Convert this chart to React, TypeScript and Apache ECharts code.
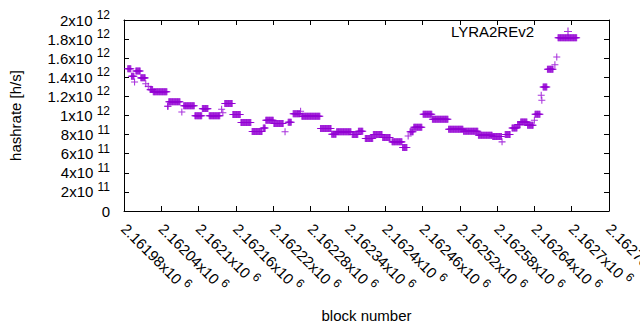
import React, { useEffect, useRef } from "react";
import * as echarts from "echarts";

// Runs of blocks that share one hashrate value
const runStart = [
  2161986, 2161992, 2161997, 2161999, 2162007, 2162015, 2162019, 2162022, 2162027, 2162050,
  2162052, 2162073, 2162076, 2162094, 2162106, 2162117, 2162137, 2162139, 2162142, 2162155,
  2162168, 2162186, 2162204, 2162208, 2162221, 2162239, 2162244, 2162252, 2162264, 2162266,
  2162296, 2162314, 2162322, 2162347, 2162357, 2162368, 2162381, 2162396, 2162411, 2162428,
  2162437, 2162440, 2162446, 2162461, 2162476, 2162502, 2162526, 2162550, 2162573, 2162588,
  2162593, 2162604, 2162613, 2162618, 2162629, 2162640, 2162641, 2162651, 2162652, 2162654,
  2162661, 2162673, 2162676, 2162678,
];
const runEnd = [
  2161991, 2161996, 2161997, 2162006, 2162014, 2162015, 2162019, 2162026, 2162049, 2162051,
  2162070, 2162073, 2162093, 2162105, 2162115, 2162134, 2162137, 2162139, 2162154, 2162167,
  2162184, 2162202, 2162207, 2162220, 2162236, 2162239, 2162249, 2162263, 2162264, 2162295,
  2162313, 2162321, 2162345, 2162356, 2162364, 2162380, 2162395, 2162408, 2162427, 2162435,
  2162437, 2162445, 2162459, 2162475, 2162501, 2162525, 2162549, 2162572, 2162587, 2162588,
  2162601, 2162612, 2162617, 2162628, 2162638, 2162640, 2162649, 2162651, 2162652, 2162660,
  2162670, 2162673, 2162676, 2162708,
];
const runHashrate = [
  1.49e12, 1.41e12, 1.35e12, 1.467e12, 1.394e12, 1.333e12, 1.305e12, 1.271e12, 1.248e12, 1.097e12,
  1.144e12, 1.037e12, 1.102e12, 0.998e12, 1.072e12, 0.998e12, 1.065e12, 1.029e12, 1.125e12, 1.01e12,
  0.926e12, 0.833e12, 0.87e12, 0.951e12, 0.916e12, 0.829e12, 0.929e12, 1.018e12, 1.044e12, 0.992e12,
  0.864e12, 0.804e12, 0.829e12, 0.801e12, 0.836e12, 0.759e12, 0.801e12, 0.77e12, 0.724e12, 0.665e12,
  0.786e12, 0.829e12, 0.877e12, 1.013e12, 0.961e12, 0.857e12, 0.836e12, 0.794e12, 0.78e12, 0.724e12,
  0.801e12, 0.87e12, 0.905e12, 0.932e12, 0.898e12, 0.951e12, 1.013e12, 1.212e12, 1.159e12, 1.298e12,
  1.484e12, 1.532e12, 1.612e12, 1.814e12,
];

const seriesName = "LYRA2REv2";
const xMin = 2161980;
const xMax = 2162760;
const xStep = 60;
const yMin = 0;
const yMax = 2e12;
const yStep = 2e11;

const COLOR = "#9400d3";
const FONT = "'Liberation Sans', Arial, sans-serif";
const PLUS = "path://M0,3.4H8V4.6H0Z M3.4,0H4.6V8H3.4Z";
const GRID = { left: 124, right: 31, top: 20, bottom: 119, outerBoundsMode: "none" };

function sciLabel(v: number): string {
  if (v === 0) return "{a|0}";
  const e = Math.floor(Math.log10(Math.abs(v)) + 1e-9);
  const m = parseFloat((v / Math.pow(10, e)).toPrecision(6));
  return `{a|${m}x10 }{b|${e}}`;
}

const rich = {
  a: { fontFamily: FONT, fontSize: 15, color: "#000", lineHeight: 22, verticalAlign: "middle" },
  b: { fontFamily: FONT, fontSize: 12, color: "#000", lineHeight: 12, verticalAlign: "top" },
};

// Layer 1: the frame (four axis lines with inward ticks), no texts
function frameOption() {
  const line = () => ({ show: true, onZero: false, lineStyle: { color: "#000", width: 1 } });
  const tick = () => ({ show: true, inside: true, length: 5, lineStyle: { color: "#000", width: 1 } });
  const xa = (position: string) => ({
    type: "value", min: xMin, max: xMax, interval: xStep, position,
    axisLine: line(), axisTick: tick(), axisLabel: { show: false }, splitLine: { show: false },
  });
  const ya = (position: string) => ({
    type: "value", min: yMin, max: yMax, interval: yStep, position,
    axisLine: line(), axisTick: tick(), axisLabel: { show: false }, splitLine: { show: false },
  });
  return {
    animation: false,
    grid: { ...GRID },
    xAxis: [xa("bottom"), xa("top")],
    yAxis: [ya("left"), ya("right")],
    series: [],
  };
}

// Layer 2: data, tick labels, axis titles and key
function dataOption(data: number[][]) {
  return {
    animation: false,
    grid: { ...GRID },
    legend: {
      show: true,
      data: [{ name: seriesName, icon: PLUS }],
      right: 68,
      top: 24,
      padding: 0,
      align: "right",
      itemWidth: 8,
      itemHeight: 8,
      selectedMode: false,
      textStyle: { fontFamily: FONT, fontSize: 15, color: "#000", padding: [0, 25, 0, 0] },
    },
    xAxis: {
      type: "value",
      min: xMin,
      max: xMax,
      interval: xStep,
      position: "bottom",
      name: "block number",
      nameLocation: "middle",
      nameGap: 97,
      nameTextStyle: { fontFamily: FONT, fontSize: 15, color: "#000" },
      axisLine: { show: false },
      axisTick: { show: false },
      splitLine: { show: false },
      axisLabel: {
        rotate: -45,
        margin: 15,
        formatter: (v: number) => sciLabel(v),
        rich,
      },
    },
    yAxis: {
      type: "value",
      min: yMin,
      max: yMax,
      interval: yStep,
      position: "left",
      name: "hashrate [h/s]",
      nameLocation: "middle",
      nameGap: 101,
      nameTextStyle: { fontFamily: FONT, fontSize: 15, color: "#000" },
      axisLine: { show: false },
      axisTick: { show: false },
      splitLine: { show: false },
      axisLabel: { margin: 14, formatter: (v: number) => sciLabel(v), rich },
    },
    series: [
      {
        name: seriesName,
        type: "scatter",
        data,
        symbol: PLUS,
        symbolSize: 7,
        itemStyle: { color: COLOR },
      },
    ],
  };
}

export default function App() {
  const frameRef = useRef<HTMLDivElement>(null);
  const dataRef = useRef<HTMLDivElement>(null);
  useEffect(() => {
    if (!frameRef.current || !dataRef.current) return;
    const frameChart = echarts.init(frameRef.current, undefined, { renderer: "svg" });
    const dataChart = echarts.init(dataRef.current, undefined, { renderer: "svg" });
    const data: number[][] = [];
    for (let i = 0; i < runStart.length; i++) {
      for (let b = runStart[i]; b <= runEnd[i]; b++) data.push([b, runHashrate[i]]);
    }
    try {
      frameChart.setOption(frameOption() as any);
    } catch (e) {
      /* keep going */
    }
    try {
      dataChart.setOption(dataOption(data) as any);
    } catch (e) {
      /* keep going */
    }
    return () => {
      frameChart.dispose();
      dataChart.dispose();
    };
  }, []);
  const box = { position: "absolute" as const, left: 0, top: 0, width: 640, height: 330 };
  return (
    <div style={{ ...box, background: "#fff" }}>
      <div ref={frameRef} style={box} />
      <div ref={dataRef} style={box} />
    </div>
  );
}
